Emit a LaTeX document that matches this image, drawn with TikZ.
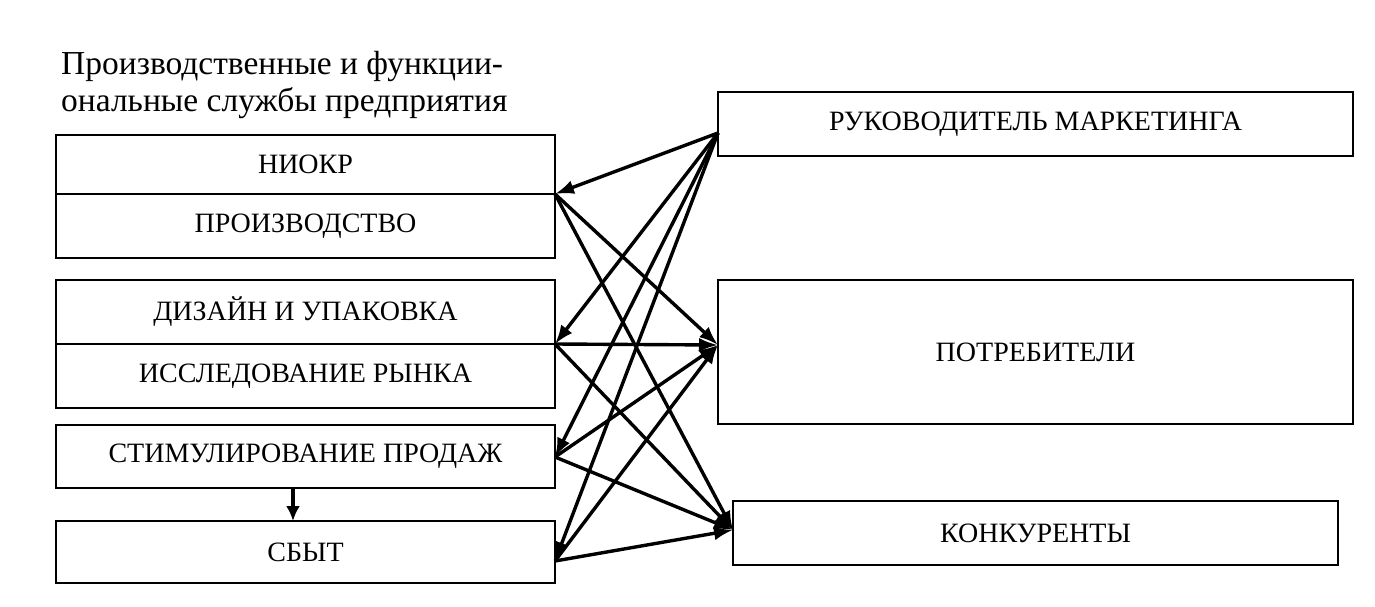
\documentclass[tikz,border=0pt]{standalone}
\usepackage{fontspec}
\setmainfont{Liberation Serif}
\usetikzlibrary{arrows.meta}
\begin{document}
\begin{tikzpicture}[x=1pt,y=-1pt,
  box/.style={draw, line width=2.5pt, inner sep=0pt, outer sep=0pt,
    font=\fontsize{28}{32}\selectfont},
  lbox/.style={box, minimum width=499pt},
  conn/.style={line width=3.4pt, -{Latex[length=19pt,width=14pt]}},
  down/.style={line width=3.4pt, -{Latex[length=15pt,width=14pt]}}]
\useasboundingbox[fill=white] (0,0) rectangle (1375,607);
% title
\node[anchor=north west, inner sep=0pt, align=left,
  font=\fontsize{33.5}{37}\selectfont] (title) at (61,51)
  {Производственные и функции-\\ональные службы предприятия};
% left boxes
\node[lbox, minimum height=59pt] (niokr) at (305.5,164.5) {НИОКР};
\node[lbox, minimum height=64pt] (proizv) at (305.5,226) {ПРОИЗВОДСТВО};
\node[lbox, minimum height=64pt] (dizain) at (305.5,312) {ДИЗАЙН И УПАКОВКА};
\node[lbox, minimum height=64pt] (issled) at (305.5,376) {ИССЛЕДОВАНИЕ РЫНКА};
\node[lbox, minimum height=63pt] (stim) at (305.5,456.5) {СТИМУЛИРОВАНИЕ ПРОДАЖ};
\node[lbox, minimum height=62pt] (sbyt) at (305.5,552) {СБЫТ};
% right boxes
\node[box, minimum width=635pt, minimum height=64pt] (ruk) at (1035.5,124) {РУКОВОДИТЕЛЬ МАРКЕТИНГА};
\node[box, minimum width=635pt, minimum height=144pt] (potr) at (1035.5,352) {ПОТРЕБИТЕЛИ};
\node[box, minimum width=605pt, minimum height=64pt] (konk) at (1035.5,533) {КОНКУРЕНТЫ};
% connection points
\coordinate (r) at (718,133);
\coordinate (p) at (718,345);
\coordinate (k) at (733,530);
\coordinate (s1) at (niokr.south east);
\coordinate (s2) at (dizain.south east);
\coordinate (s3) at (555,457);
\coordinate (s4) at (555,561);
% from marketing head
\draw[conn] (r) -- (s1);
\draw[conn] (r) -- (s2);
\draw[conn] (r) -- (s3);
\draw[conn] (r) -- (s4);
% to consumers
\draw[conn] (s1) -- (p);
\draw[conn] (s2) -- (p);
\draw[conn] (s3) -- (p);
\draw[conn] (s4) -- (p);
% to competitors
\draw[conn] (s1) -- (k);
\draw[conn] (s2) -- (k);
\draw[conn] (s3) -- (k);
\draw[conn] (s4) -- (k);
% stimulation -> sales
\draw[down] ([xshift=-12.5pt]stim.south) -- ([xshift=-12.5pt]sbyt.north);
\end{tikzpicture}
\end{document}
